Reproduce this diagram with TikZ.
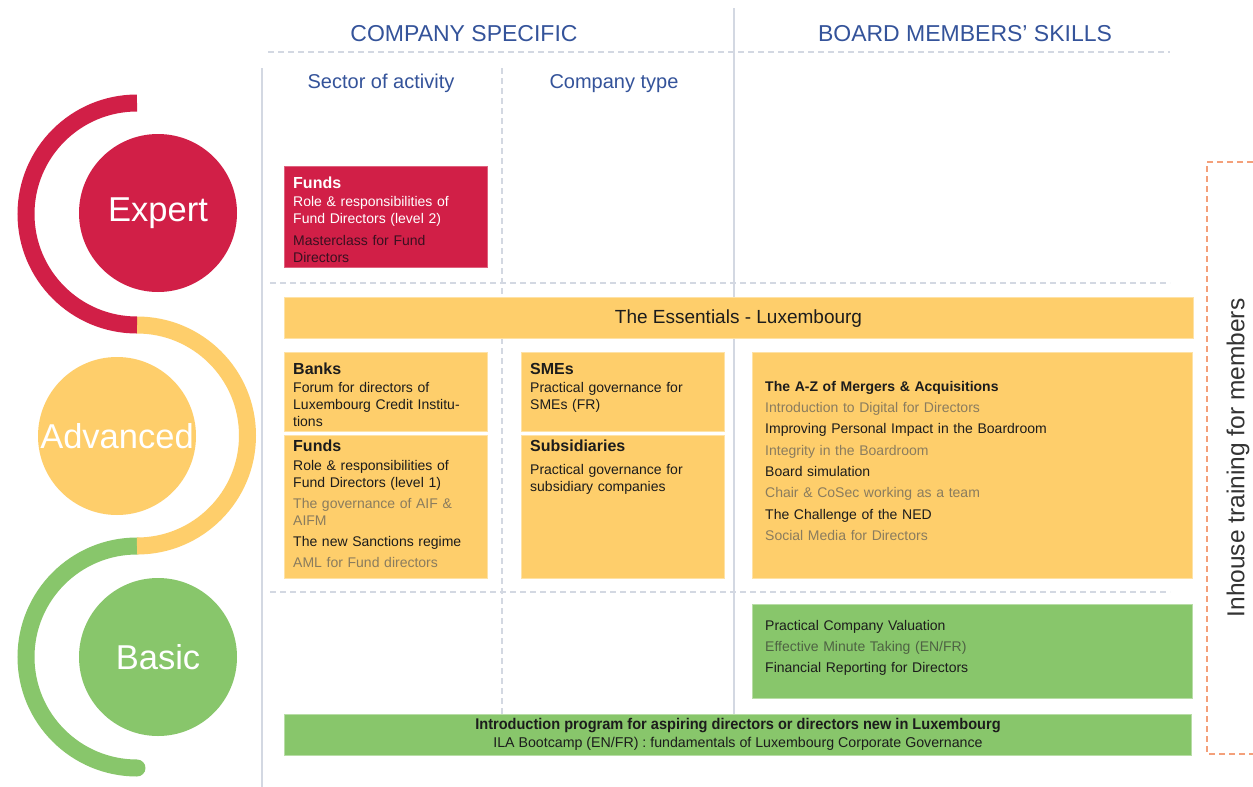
\documentclass[tikz,border=0pt]{standalone}
\usepackage{fontspec}
\setmainfont{Liberation Sans}
\usetikzlibrary{calc}
\definecolor{cred}{HTML}{D11F47}
\definecolor{cyel}{HTML}{FECE6B}
\definecolor{cgrn}{HTML}{88C66B}
\definecolor{hblue}{HTML}{34539A}
\definecolor{gridc}{HTML}{D3D8E2}
\definecolor{corange}{HTML}{F4A07A}
\definecolor{tdark}{HTML}{1C1C1C}
\definecolor{tgray}{HTML}{8A7C5E}
\definecolor{tred}{HTML}{3A1020}
\definecolor{tggray}{HTML}{4E6343}
\tikzset{
  gridline/.style={draw=gridc, line width=1.1pt},
  griddash/.style={draw=gridc, line width=1.1pt, dash pattern=on 6pt off 4pt},
  orangedash/.style={draw=corange, line width=1.2pt, dash pattern=on 6pt off 4pt},
  box/.style={anchor=north west, inner sep=0pt, outer sep=0pt},
  ybox/.style={box, fill=cyel, draw=cyel!60!white, line width=0.8pt},
  gbox/.style={box, fill=cgrn, draw=cgrn!60!white, line width=0.8pt},
  rbox/.style={box, fill=cred, draw=cred!70!white, line width=0.8pt},
  ttl/.style={anchor=north west, inner sep=0pt, font=\fontsize{16}{19}\selectfont\bfseries, text width=200pt, align=left, text=tdark},
  bdy/.style={anchor=north west, inner sep=0pt, font=\fontsize{14}{17}\selectfont, text width=230pt, align=left, text=tdark},
  lvl/.style={circle, inner sep=0pt, minimum size=158pt, text=white, font=\fontsize{34.5}{40}\selectfont},
  head/.style={anchor=base, text=hblue, font=\fontsize{23}{27}\selectfont},
  subhead/.style={anchor=base, text=hblue, font=\fontsize{20}{24}\selectfont},
  arcline/.style={line width=17pt},
}
\begin{document}
\begin{tikzpicture}[x=1pt,y=-1pt]
\useasboundingbox (0,0) rectangle (1253,787);
\fill[white] (0,0) rectangle (1253,787);

% grid lines
\coordinate (v1t) at (262,68);  \coordinate (v1b) at (262,787);
\coordinate (v2t) at (502,68);  \coordinate (v2b) at (502,714);
\coordinate (v3t) at (734,8);   \coordinate (v3b) at (734,714);
\coordinate (h1l) at (268,52);  \coordinate (h1r) at (1170,52);
\coordinate (h2l) at (270,283); \coordinate (h2r) at (1170,283);
\coordinate (h3l) at (270,592); \coordinate (h3r) at (1170,592);
\draw[gridline] (v1t) -- (v1b);
\draw[griddash] (v2t) -- (v2b);
\draw[gridline] (v3t) -- (v3b);
\draw[griddash] (h1l) -- (h1r);
\draw[griddash] (h2l) -- (h2r);
\draw[griddash] (h3l) -- (h3r);

% headers
\node[head] (hcs) at (464,41) {COMPANY SPECIFIC};
\node[head] (hbm) at (965,41) {BOARD MEMBERS’ SKILLS};
\node[subhead] (hsa) at (381,88) {Sector of activity};
\node[subhead] (hct) at (614,88) {Company type};

% orange dashed frame
\coordinate (o1) at (1253,162); \coordinate (o2) at (1207,162);
\coordinate (o3) at (1207,754); \coordinate (o4) at (1253,754);
\draw[orangedash] (o1) -- (o2) -- (o3) -- (o4);
\node[rotate=90, font=\fontsize{24.5}{28}\selectfont, text=black!80] (inh) at (1238,458) {Inhouse training for members};

% arcs
\draw[arcline, cgrn, line cap=round] (137,546) arc[start angle=90, end angle=270, radius=111pt];
\draw[arcline, cyel] (137,325) arc[start angle=90, end angle=-90, radius=110.5pt];
\draw[arcline, cred] (137,103) arc[start angle=90, end angle=270, radius=111pt];

% level circles
\node[lvl, fill=cred] (cexp) at (158,213) {Expert};
\node[lvl, fill=cyel] (cadv) at (117,436) {Advanced};
\node[lvl, fill=cgrn] (cbas) at (158,657) {Basic};

% boxes
\node[rbox, minimum width=203pt, minimum height=101pt] (bexp) at (284,166) {};
\node[ybox, minimum width=909pt, minimum height=41pt] (bess) at (284,297) {};
\node[ybox, minimum width=203pt, minimum height=79pt] (bbank) at (284,352) {};
\node[ybox, minimum width=203pt, minimum height=143pt] (bfund) at (284,435) {};
\node[ybox, minimum width=203pt, minimum height=79pt] (bsme) at (521,352) {};
\node[ybox, minimum width=203pt, minimum height=143pt] (bsub) at (521,435) {};
\node[ybox, minimum width=440pt, minimum height=226pt] (bskill) at (752,352) {};
\node[gbox, minimum width=440pt, minimum height=94pt] (bbasic) at (752,604) {};
\node[gbox, minimum width=907pt, minimum height=41pt] (bintro) at (284,714) {};

% texts: expert funds
\node[ttl, text=white] (t1) at (293,177) {Funds};
\node[bdy, text=white] (t2) at (293,196) {Role \& responsibilities of\\Fund Directors (level 2)\\[5pt]\color{tred}Masterclass for Fund\\Directors};

% essentials
\node[font=\fontsize{19}{22}\selectfont, text=tdark] (tess) at ($(bess.center)+(0,1)$) {The Essentials - Luxembourg};

% banks
\node[ttl] (t3) at (293,363) {Banks};
\node[bdy] (t4) at (293,382) {Forum for directors of\\Luxembourg Credit Institu-\\tions};

% funds advanced
\node[ttl] (t5) at (293,440) {Funds};
\node[bdy] (t6) at (293,460) {Role \& responsibilities of\\Fund Directors (level 1)\\[4pt]\color{tgray}The governance of AIF \&\\AIFM\\[4pt]\color{tdark}The new Sanctions regime\\[4pt]\color{tgray}AML for Fund directors};

% SMEs
\node[ttl] (t7) at (530,363) {SMEs};
\node[bdy] (t8) at (530,382) {Practical governance for\\SMEs (FR)};

% subsidiaries
\node[ttl] (t9) at (530,440) {Subsidiaries};
\node[bdy] (t10) at (530,464) {Practical governance for\\subsidiary companies};

% skills
\node[bdy, text width=420pt, font=\fontsize{14}{21.3}\selectfont] (t11) at (765,381) {{\bfseries The A-Z of Mergers \& Acquisitions}\\\color{tgray}Introduction to Digital for Directors\\\color{tdark}Improving Personal Impact in the Boardroom\\\color{tgray}Integrity in the Boardroom\\\color{tdark}Board simulation\\\color{tgray}Chair \& CoSec working as a team\\\color{tdark}The Challenge of the NED\\\color{tgray}Social Media for Directors};

% basic
\node[bdy, text width=420pt, font=\fontsize{14}{21}\selectfont] (t12) at (765,620) {Practical Company Valuation\\\color{tggray}Effective Minute Taking (EN/FR)\\\color{tdark}Financial Reporting for Directors};

% intro
\node[font=\fontsize{15.5}{18}\selectfont\bfseries, text=tdark, xscale=0.94] (t13) at (738,726) {Introduction program for aspiring directors or directors new in Luxembourg};
\node[font=\fontsize{14.2}{16}\selectfont, text=tdark] (t14) at (738,744) {ILA Bootcamp (EN/FR) : fundamentals of Luxembourg Corporate Governance};
\end{tikzpicture}
\end{document}
